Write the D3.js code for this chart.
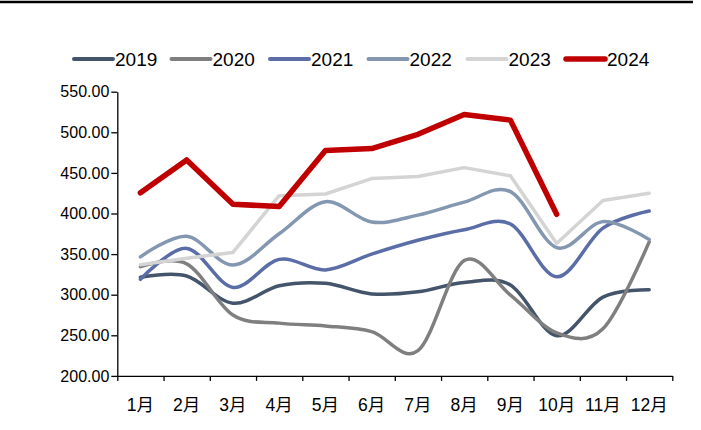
<!DOCTYPE html>
<html>
<head>
<meta charset="utf-8">
<script src="https://cdn.jsdelivr.net/npm/d3@7"></script>
<style>
  html, body { margin: 0; padding: 0; background: #fff; }
  svg { display: block; font-family: "Liberation Sans", Arial, sans-serif; }
</style>
</head>
<body>
<svg id="chart" width="701" height="430"></svg>
<script>
// Monthly values by year
const months = ["1月","2月","3月","4月","5月","6月","7月","8月","9月","10月","11月","12月"];
const years = ["2019","2020","2021","2022","2023","2024"];
const v2019 = [321.5, 323, 289.5, 311, 314, 301, 303.5, 315, 312, 249.5, 297, 306];
const v2020 = [334.5, 338, 275, 265, 261.5, 254.5, 231, 342, 299.5, 253, 258, 365];
const v2021 = [319, 357, 309, 343.5, 330.5, 350, 367, 380, 387, 322, 382, 403];
const v2022 = [346.5, 372, 336.5, 375, 414.5, 389.5, 398, 414, 427, 358, 390, 368];
const v2023 = [337, 345, 352, 422, 424, 443, 445.5, 456.5, 446.5, 363, 416, 425];
const v2024 = [425.5, 466, 411.5, 408.5, 477.5, 480, 497.5, 522, 515, 399];
const yTicks = [200, 250, 300, 350, 400, 450, 500, 550];

const seriesValues = [v2019, v2020, v2021, v2022, v2023, v2024];
const colors = ["#44546A", "#7F7F7F", "#5A6DA6", "#8497B0", "#D4D4D4", "#C00000"];
const widths = [3.5, 3.5, 3.5, 3.5, 3.5, 5.5];
const smooth = [true, true, true, true, false, false];

const svg = d3.select("#chart");

// Rule across the top
svg.append("line")
  .attr("x1", 0).attr("x2", 693)
  .attr("y1", 2).attr("y2", 2)
  .attr("stroke", "#000").attr("stroke-width", 2.5);

const plotLeft = 117.3, plotRight = 672.3, plotTop = 91.7, plotBottom = 375.9;

const x = d3.scaleBand().domain(months).range([plotLeft, plotRight]).paddingInner(0).paddingOuter(0);
const xEdges = d3.scaleLinear().domain([0, months.length]).range([plotLeft, plotRight]);
const y = d3.scaleLinear().domain([200, 550]).range([plotBottom, plotTop]);

// Y axis
const yAxis = svg.append("g")
  .attr("transform", `translate(${plotLeft},0)`)
  .call(d3.axisLeft(y).tickValues(yTicks).tickFormat(d3.format(".2f"))
    .tickSize(6).tickSizeOuter(0).tickPadding(2));
yAxis.select(".domain").attr("stroke", "#000").attr("stroke-width", 1.3);
yAxis.selectAll(".tick line").attr("stroke", "#000").attr("stroke-width", 1.3);
yAxis.selectAll("text").attr("font-size", "16px").attr("fill", "#000")
  .attr("font-family", "'Liberation Sans', Arial, sans-serif");

// X axis: tick marks on category boundaries
const xTickAxis = svg.append("g")
  .attr("transform", `translate(0,${plotBottom})`)
  .call(d3.axisBottom(xEdges).tickValues(d3.range(months.length + 1))
    .tickFormat("").tickSize(5).tickSizeOuter(0));
xTickAxis.select(".domain").attr("stroke", "#000").attr("stroke-width", 1.3);
xTickAxis.selectAll(".tick line").attr("stroke", "#000").attr("stroke-width", 1.3);

// X axis: month labels centred in each category
const xLabelAxis = svg.append("g")
  .attr("transform", `translate(0,${plotBottom})`)
  .call(d3.axisBottom(x).tickSize(0).tickPadding(23));
xLabelAxis.select(".domain").remove();
xLabelAxis.selectAll("text").attr("font-size", "17.5px").attr("fill", "#000")
  .attr("font-family", "'Liberation Sans', 'Noto Sans CJK SC', Arial, sans-serif");

// Series lines
const lineSmooth = d3.line()
  .x((d, i) => x(months[i]) + x.bandwidth() / 2)
  .y(d => y(d))
  .curve(d3.curveCatmullRom.alpha(0));
const lineStraight = d3.line()
  .x((d, i) => x(months[i]) + x.bandwidth() / 2)
  .y(d => y(d));

seriesValues.forEach((vals, k) => {
  svg.append("path")
    .datum(vals)
    .attr("fill", "none")
    .attr("stroke", colors[k])
    .attr("stroke-width", widths[k])
    .attr("stroke-linejoin", "round")
    .attr("stroke-linecap", "round")
    .attr("d", smooth[k] ? lineSmooth(vals) : lineStraight(vals));
});

// Legend
const legend = svg.append("g");
const legendX = [73, 170.5, 269, 367.5, 466.5, 565];
years.forEach((yr, k) => {
  const g = legend.append("g").attr("transform", `translate(${legendX[k]},59)`);
  g.append("line")
    .attr("x1", 1).attr("x2", 40)
    .attr("y1", 0).attr("y2", 0)
    .attr("stroke", colors[k])
    .attr("stroke-width", k === 5 ? 5.5 : 4)
    .attr("stroke-linecap", "round");
  g.append("text")
    .attr("x", 42).attr("y", 0).attr("dy", "0.36em")
    .attr("font-size", "19px").attr("fill", "#000")
    .text(yr);
});
</script>
</body>
</html>
